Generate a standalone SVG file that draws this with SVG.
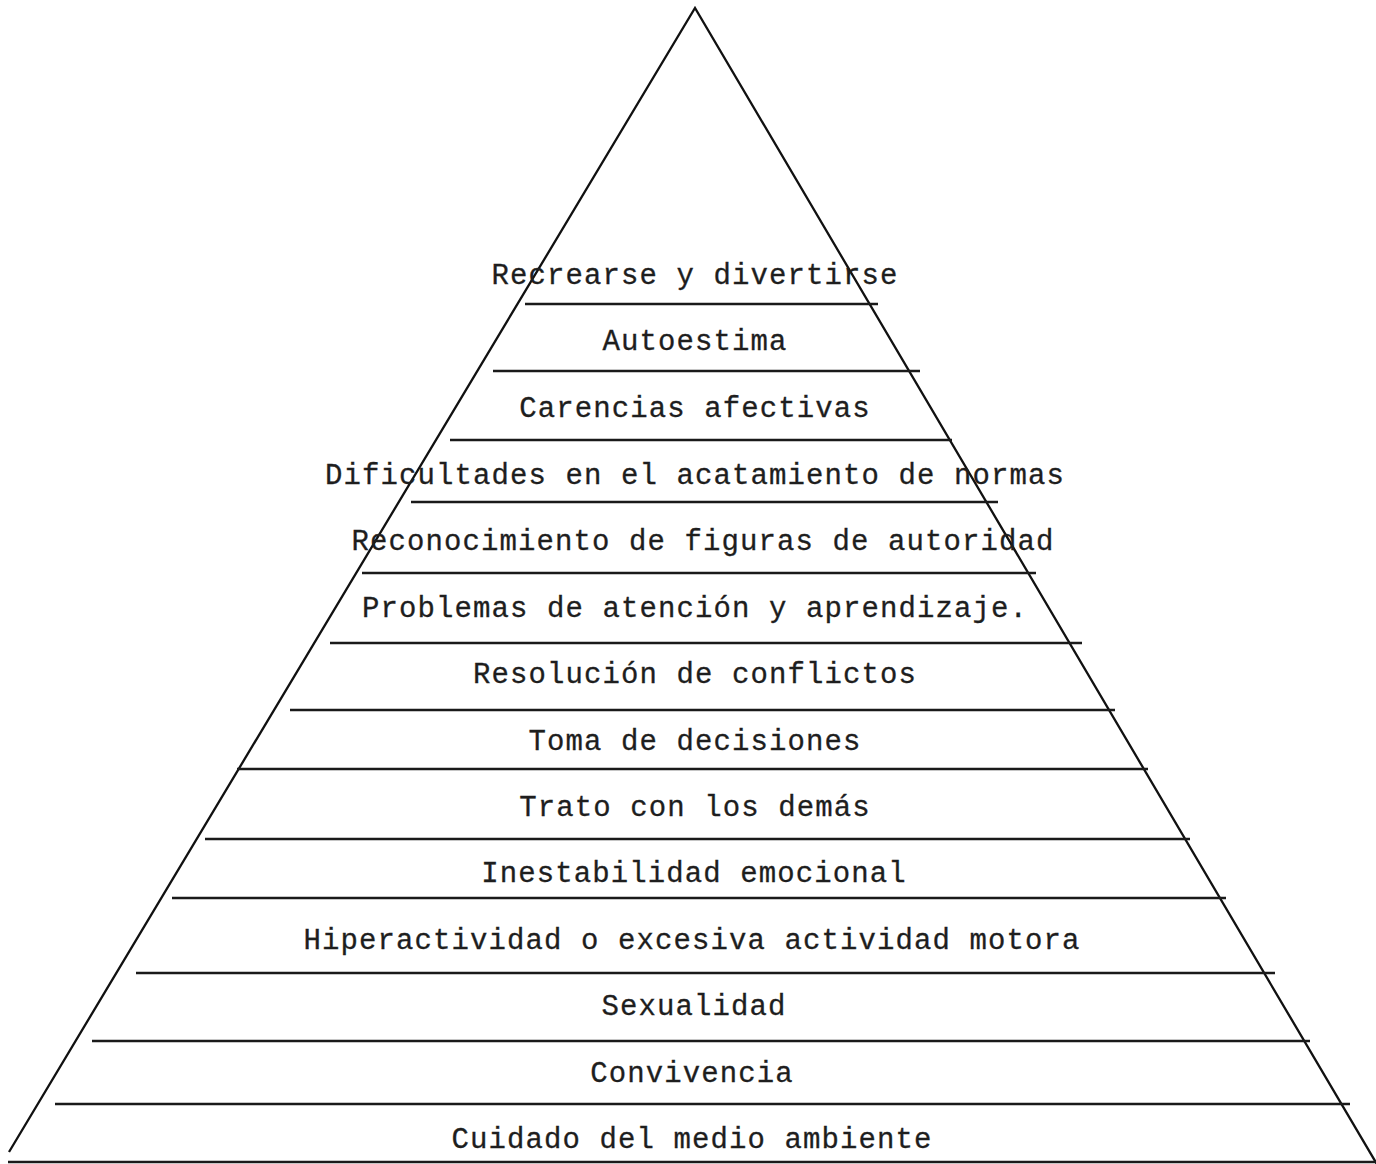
<svg xmlns="http://www.w3.org/2000/svg" width="1376" height="1164" viewBox="0 0 1376 1164">
<style>
.t{font-family:"Liberation Mono","Courier New",monospace;font-size:29px;letter-spacing:1.1px;fill:#1e1e1e;stroke:#1e1e1e;stroke-width:0.3;text-anchor:middle}
.s{stroke:#1a1a1a;stroke-width:2.6;fill:none}
.e{stroke:#111;stroke-width:2.3;fill:none}
</style>
<rect width="1376" height="1164" fill="#fff"/>
<g id="outline">
<path class="e" d="M9,1152 L695,8 L1378,1166"/>
</g>
<g id="levels">
<g id="n1"><text class="t" x="695" y="284">Recrearse y divertirse</text><line class="s" x1="525" y1="304" x2="878" y2="304"/></g>
<g id="n2"><text class="t" x="695" y="350">Autoestima</text><line class="s" x1="493" y1="371" x2="920" y2="371"/></g>
<g id="n3"><text class="t" x="695" y="417">Carencias afectivas</text><line class="s" x1="450" y1="440" x2="952" y2="440"/></g>
<g id="n4"><text class="t" x="695" y="484">Dificultades en el acatamiento de normas</text><line class="s" x1="411" y1="502" x2="998" y2="502"/></g>
<g id="n5"><text class="t" x="703" y="550">Reconocimiento de figuras de autoridad</text><line class="s" x1="362" y1="573" x2="1036" y2="573"/></g>
<g id="n6"><text class="t" x="695" y="617">Problemas de atención y aprendizaje.</text><line class="s" x1="330" y1="643" x2="1082" y2="643"/></g>
<g id="n7"><text class="t" x="695" y="683">Resolución de conflictos</text><line class="s" x1="290" y1="710" x2="1115" y2="710"/></g>
<g id="n8"><text class="t" x="695" y="750">Toma de decisiones</text><line class="s" x1="237" y1="769" x2="1148" y2="769"/></g>
<g id="n9"><text class="t" x="695" y="816">Trato con los demás</text><line class="s" x1="205" y1="839" x2="1190" y2="839"/></g>
<g id="n10"><text class="t" x="694" y="882">Inestabilidad emocional</text><line class="s" x1="172" y1="898" x2="1226" y2="898"/></g>
<g id="n11"><text class="t" x="692" y="949">Hiperactividad o excesiva actividad motora</text><line class="s" x1="136" y1="973" x2="1275" y2="973"/></g>
<g id="n12"><text class="t" x="694" y="1015">Sexualidad</text><line class="s" x1="92" y1="1041" x2="1310" y2="1041"/></g>
<g id="n13"><text class="t" x="692" y="1082">Convivencia</text><line class="s" x1="55" y1="1104" x2="1350" y2="1104"/></g>
<g id="n14"><text class="t" x="692" y="1148">Cuidado del medio ambiente</text><line class="s" x1="8" y1="1162" x2="1376" y2="1162"/></g>
</g>
</svg>
